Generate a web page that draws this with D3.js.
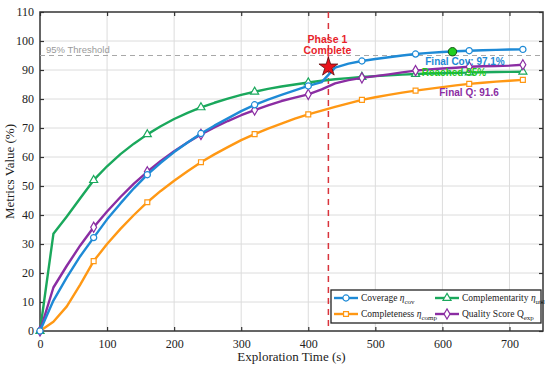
<!DOCTYPE html>
<html><head><meta charset="utf-8">
<script src="https://cdn.jsdelivr.net/npm/d3@7"></script>
<style>body{margin:0;background:#fff}svg{display:block}</style>
</head><body>
<svg id="c" width="550" height="365"></svg>
<script>
const times = [0,20,40,60,80,100,120,140,160,180,200,220,240,260,280,300,320,340,360,380,400,420,440,460,480,500,520,540,560,580,600,620,640,660,680,700,720];
const coverage = [0,10.5,18.5,25.8,32.2,38.5,44,49.2,53.9,58,61.7,65,68.1,70.8,73.3,75.8,78,79.8,81.4,83,84.5,85.8,90.8,92.2,93.1,93.8,94.4,95,95.5,95.9,96.2,96.45,96.65,96.8,96.95,97.05,97.1];
const completeness = [0,3.2,8.5,16,24.1,30,35.2,40,44.4,48.3,51.8,55.1,58.2,60.9,63.4,65.8,67.9,69.8,71.5,73.2,74.7,76,77.3,78.5,79.7,80.6,81.4,82.2,82.9,83.5,84.1,84.7,85.2,85.6,86,86.3,86.6];
const complementarity = [0,33.5,39.5,45.8,52,56.8,61,64.6,67.8,70.6,73.1,75.2,77.1,78.7,80.1,81.4,82.5,83.5,84.3,85,85.7,86.3,86.8,87.2,87.6,87.9,88.2,88.4,88.6,88.8,88.9,89.0,89.1,89.2,89.3,89.35,89.4];
const quality = [0,15,22.5,29.5,35.8,41.2,46.2,50.8,54.9,58.6,62,65,67.8,70.2,72.4,74.4,76.2,77.8,79.3,80.5,81.6,83.3,85.4,86.5,87.3,87.9,88.5,89.2,89.8,90.2,90.5,90.8,91.1,91.3,91.4,91.5,91.8];
const markerTimes = [0,80,160,240,320,400,480,560,640,720];
const xTicks = [0,100,200,300,400,500,600,700];
const yTicks = [0,10,20,30,40,50,60,70,80,90,100,110];
const threshold = 95;
const phaseTime = 430;
const phaseStarValue = 91;
const reachedPoint = [615, 96.3];

const svg = d3.select("#c");
const L=40, T=12, R=543, B=331;
const x = d3.scaleLinear().domain([0,750]).range([L,R]);
const y = d3.scaleLinear().domain([0,110]).range([B,T]);
const serif = "'Liberation Serif','Times New Roman',serif";
const sans = "'Liberation Sans',Arial,sans-serif";

// grid
const g = svg.append("g");
g.selectAll(".gx").data(xTicks.filter(d=>d>0)).join("line")
  .attr("x1",d=>x(d)).attr("x2",d=>x(d)).attr("y1",T).attr("y2",B)
  .attr("stroke","#dcdcdc").attr("stroke-width",1);
g.selectAll(".gy").data(yTicks.filter(d=>d>0&&d<110)).join("line")
  .attr("x1",L).attr("x2",R).attr("y1",d=>y(d)).attr("y2",d=>y(d))
  .attr("stroke","#dcdcdc").attr("stroke-width",1);

// axes
const ax = svg.append("g").attr("transform",`translate(0,${B})`)
  .call(d3.axisBottom(x).tickValues(xTicks).tickSize(-4).tickPadding(8).tickFormat(d3.format("d")));
const ay = svg.append("g").attr("transform",`translate(${L},0)`)
  .call(d3.axisLeft(y).tickValues(yTicks).tickSize(-4).tickPadding(6).tickFormat(d3.format("d")));
const axT = svg.append("g").attr("transform",`translate(0,${T})`)
  .call(d3.axisTop(x).tickValues(xTicks).tickSize(-4).tickFormat(""));
const ayR = svg.append("g").attr("transform",`translate(${R},0)`)
  .call(d3.axisRight(y).tickValues(yTicks).tickSize(-4).tickFormat(""));
[ax,ay,axT,ayR].forEach(a=>{
  a.select(".domain").remove();
  a.selectAll(".tick line").attr("stroke","#333").attr("stroke-width",1.2);
  a.selectAll("text").attr("font-family",serif).attr("font-size",12).attr("fill","#222");
});
svg.append("rect").attr("x",L).attr("y",T).attr("width",R-L).attr("height",B-T)
  .attr("fill","none").attr("stroke","#333").attr("stroke-width",1.5);

// axis labels
svg.append("text").attr("x",(L+R)/2).attr("y",361).attr("text-anchor","middle")
  .attr("font-family",serif).attr("font-size",13).attr("fill","#222").text("Exploration Time (s)");
svg.append("text").attr("transform",`translate(14,${(T+B)/2}) rotate(-90)`).attr("text-anchor","middle")
  .attr("font-family",serif).attr("font-size",13).attr("fill","#222").text("Metrics Value (%)");

// threshold
svg.append("line").attr("x1",L).attr("x2",R).attr("y1",y(threshold)).attr("y2",y(threshold))
  .attr("stroke","#a8a8a8").attr("stroke-width",1.2).attr("stroke-dasharray","5,4");
svg.append("text").attr("x",L+6).attr("y",y(threshold)-3).attr("font-family",sans).attr("font-size",9.5)
  .attr("fill","#9a9a9a").text("95% Threshold");

// phase line
svg.append("line").attr("x1",x(phaseTime)).attr("x2",x(phaseTime)).attr("y1",T).attr("y2",B)
  .attr("stroke","#d9343c").attr("stroke-width",1.5).attr("stroke-dasharray","6,5");

const series = [
  {name:"Coverage", sub:"cov", vals:coverage, color:"#1e8ad6", sym:"circle"},
  {name:"Completeness", sub:"comp", vals:completeness, color:"#ff9814", sym:"square"},
  {name:"Complementarity", sub:"util", vals:complementarity, color:"#1aa85c", sym:"triangle"},
  {name:"Quality Score Q", sub:"exp", vals:quality, color:"#8b2da3", sym:"diamond", noEta:true}
];
const symMap = {circle:d3.symbolCircle, square:d3.symbolSquare, triangle:d3.symbolTriangle, diamond:d3.symbolDiamond};
const symSize = {circle:30, square:24, triangle:28, diamond:30};
const line = d3.line().x((d,i)=>x(times[i])).y(d=>y(d));

// draw order: orange, green, purple, blue
[1,2,3,0].forEach(k=>{
  const s = series[k];
  svg.append("path").datum(s.vals).attr("d",line).attr("fill","none")
    .attr("stroke",s.color).attr("stroke-width",2.4).attr("stroke-linejoin","round");
  svg.append("g").selectAll("path").data(markerTimes).join("path")
    .attr("transform",t=>`translate(${x(t)},${y(s.vals[times.indexOf(t)])})`)
    .attr("d",d3.symbol().type(symMap[s.sym]).size(symSize[s.sym]))
    .attr("fill","#fff").attr("stroke",s.color).attr("stroke-width",1.2);
});

// star
svg.append("path").attr("transform",`translate(${x(phaseTime)},${y(phaseStarValue)})`)
  .attr("d",d3.symbol().type(d3.symbolStar).size(110))
  .attr("fill","#e8141c").attr("stroke","#5a0a0a").attr("stroke-width",0.8);
svg.append("text").attr("x",x(phaseTime)-1).attr("y",43).attr("text-anchor","middle")
  .attr("font-family",sans).attr("font-weight","bold").attr("font-size",10.5).attr("fill","#e8242c").text("Phase 1");
svg.append("text").attr("x",x(phaseTime)-1).attr("y",54).attr("text-anchor","middle")
  .attr("font-family",sans).attr("font-weight","bold").attr("font-size",10.5).attr("fill","#e8242c").text("Complete");

// reached dot
svg.append("circle").attr("cx",x(reachedPoint[0])).attr("cy",y(reachedPoint[1])).attr("r",4.2)
  .attr("fill","#1fd01f").attr("stroke","#145214").attr("stroke-width",1);

// annotations
svg.append("text").attr("x",465).attr("y",65).attr("text-anchor","middle").attr("font-family",sans)
  .attr("font-weight","bold").attr("font-size",10).attr("fill","#1e8ad6").text("Final Cov: 97.1%");
svg.append("text").attr("x",454).attr("y",76).attr("text-anchor","middle").attr("font-family",sans)
  .attr("font-weight","bold").attr("font-size",10).attr("fill","#1ec81e").text("Reached 95%");
svg.append("text").attr("x",469).attr("y",96).attr("text-anchor","middle").attr("font-family",sans)
  .attr("font-weight","bold").attr("font-size",10).attr("fill","#8b2da3").text("Final Q: 91.6");

// legend
const lg = svg.append("g");
lg.append("rect").attr("x",331).attr("y",290).attr("width",210).attr("height",33)
  .attr("fill","#fff").attr("stroke","#222").attr("stroke-width",1.3);
const pos = [[334,298],[334,314],[435,298],[435,314]];
series.forEach((s,i)=>{
  const [px,py] = pos[i];
  lg.append("line").attr("x1",px).attr("x2",px+24).attr("y1",py).attr("y2",py)
    .attr("stroke",s.color).attr("stroke-width",2.4);
  lg.append("path").attr("transform",`translate(${px+12},${py})`)
    .attr("d",d3.symbol().type(symMap[s.sym]).size(symSize[s.sym]))
    .attr("fill","#fff").attr("stroke",s.color).attr("stroke-width",1.2);
  const t = lg.append("text").attr("x",px+27).attr("y",py+3.2).attr("font-family",serif)
    .attr("font-size",9.5).attr("fill","#222");
  t.append("tspan").text(s.name + (s.noEta ? "" : " "));
  if(!s.noEta) t.append("tspan").attr("font-style","italic").text("η");
  t.append("tspan").attr("font-size",7).attr("dy",3).text(s.sub);
});
</script>
</body></html>
